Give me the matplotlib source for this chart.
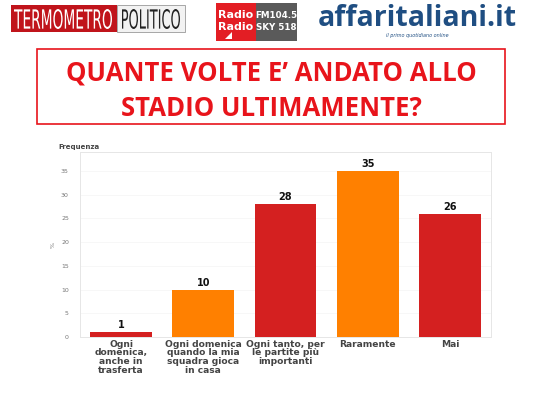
import matplotlib.pyplot as plt
from matplotlib.patches import Rectangle, Polygon, PathPatch
from matplotlib.textpath import TextPath
from matplotlib.font_manager import FontProperties
from matplotlib.transforms import Affine2D

# Data
categories = ['Ogni\ndomenica,\nanche in\ntrasferta',
              'Ogni domenica\nquando la mia\nsquadra gioca\nin casa',
              'Ogni tanto, per\nle partite più\nimportanti',
              'Raramente',
              'Mai']
values = [1, 10, 28, 35, 26]
bar_colors = ['#D42020', '#FF8000', '#D42020', '#FF8000', '#D42020']
yticks = [0, 5, 10, 15, 20, 25, 30, 35]

W, H = 550, 396
fig = plt.figure(figsize=(5.5, 3.96), dpi=100)
fig.patch.set_facecolor('white')

# overlay axes in pixel coords for logos and title box
ov = fig.add_axes([0, 0, 1, 1])
ov.set_xlim(0, W)
ov.set_ylim(H, 0)
ov.axis('off')


def squeezed_text(s, x0, x1, y0, y1, color):
    # draw text stretched into the box (x0..x1, y0..y1 in pixels, y downward)
    tp = TextPath((0, 0), s, size=20, prop=FontProperties(family='DejaVu Sans'))
    ext = tp.get_extents()
    sx = (x1 - x0) / ext.width
    sy = (y1 - y0) / ext.height
    tr = Affine2D().translate(-ext.x0, -ext.y0).scale(sx, -sy).translate(x0, y1)
    ov.add_patch(PathPatch(tr.transform_path(tp), facecolor=color, edgecolor='none'))


# Termometro Politico logo
ov.add_patch(Rectangle((11, 5), 106, 27, facecolor='#C0141B', edgecolor='none'))
ov.add_patch(Rectangle((117, 5), 68, 27, facecolor='#F2F2F2', edgecolor='#999999', lw=0.6))
squeezed_text('TERMOMETRO', 14, 112, 9, 29, 'white')
squeezed_text('POLITICO', 122, 180, 9, 29, '#222222')

# Radio Radio logo
ov.add_patch(Rectangle((216, 3), 40, 38, facecolor='#E31E24', edgecolor='none'))
ov.add_patch(Rectangle((256, 3), 41, 38, facecolor='#5A5A5A', edgecolor='none'))
ov.text(236, 15, 'Radio', color='white', fontsize=8, weight='bold', ha='center', va='center')
ov.text(236, 27, 'Radio', color='white', fontsize=8, weight='bold', ha='center', va='center')
ov.add_patch(Polygon([[225, 39], [232, 32], [232, 39]], closed=True, facecolor='white'))
ov.text(276, 15, 'FM104.5', color='white', fontsize=6.3, weight='bold', ha='center', va='center')
ov.text(276, 27, 'SKY 518', color='white', fontsize=6.3, weight='bold', ha='center', va='center')

# affaritaliani logo
ov.text(417, 18, 'affaritaliani.it', color='#1F4E82', fontsize=20.5, weight='bold',
        family='Open Sans', ha='center', va='center')
ov.text(417, 36, 'il primo quotidiano online', color='#1F4E82', fontsize=3.5,
        style='italic', ha='center', va='center')

# Title box
ov.add_patch(Rectangle((37, 49), 468, 75, facecolor='white', edgecolor='#E8141B', lw=1.2))
ov.text(271, 73, "QUANTE VOLTE E\u2019 ANDATO ALLO", color='#E8141B', fontsize=18.5,
        weight='bold', family='Open Sans', ha='center', va='center')
ov.text(271, 108, 'STADIO ULTIMAMENTE?', color='#E8141B', fontsize=18.5,
        weight='bold', family='Open Sans', ha='center', va='center')

ov.text(58, 147, 'Frequenza', color='#444444', fontsize=5, weight='bold', ha='left', va='center')

# Chart axes: left 80, right 491, top 152, bottom 337 (pixels)
ax = fig.add_axes([80 / W, 1 - 337 / H, (491 - 80) / W, (337 - 152) / H])
x = range(len(values))
ax.bar(x, values, width=0.75, color=bar_colors)
for i, v in enumerate(values):
    ax.text(i, v + 0.4, str(v), ha='center', va='bottom', fontsize=7, weight='bold', color='#111111')

ax.set_xlim(-0.5, 4.5)
ax.set_ylim(0, 39)
ax.set_yticks(yticks)
ax.set_yticklabels([str(t) for t in yticks], fontsize=4.5, color='#777777')
ax.set_xticks(list(x))
ax.set_xticklabels(categories, fontsize=6.6, weight='bold', color='#444444', linespacing=0.95)
ax.tick_params(axis='both', length=0, pad=2)
ax.tick_params(axis='y', pad=8)
ax.set_ylabel('%', fontsize=4.5, color='#777777', labelpad=4)
ax.yaxis.grid(True, color='#F4F4F4', lw=0.5)
ax.set_axisbelow(True)
for s in ax.spines.values():
    s.set_color('#E6E6E6')
    s.set_linewidth(0.7)

fig.savefig('out.png', dpi=100)
